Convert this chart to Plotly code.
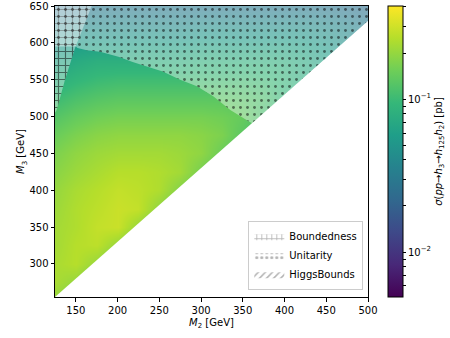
import numpy as np
import plotly.graph_objects as go

# ---------------- data ----------------
M2 = [125, 150, 175, 200, 225, 250, 275, 300, 325, 350, 375, 400, 425, 450, 475, 500]
M3 = [250, 275, 300, 325, 350, 375, 400, 425, 450, 475, 500, 525, 550, 575, 600, 625, 650]
gap = 130  # kinematic threshold M3 > M2 + gap (diagonal edge)

# cross section sigma(pp -> h3 -> h125 h2) in pb, rows = M3, cols = M2
sigma = [
    [0.201, 0.155, 0.119, 0.109, 0.109, 0.109, 0.109, 0.109, 0.109, 0.109, 0.109, 0.109, 0.109, 0.109, 0.109, 0.109],
    [0.230, 0.201, 0.142, 0.119, 0.109, 0.109, 0.109, 0.109, 0.109, 0.109, 0.109, 0.109, 0.109, 0.109, 0.109, 0.109],
    [0.230, 0.251, 0.201, 0.142, 0.119, 0.109, 0.109, 0.109, 0.109, 0.109, 0.109, 0.109, 0.109, 0.109, 0.109, 0.109],
    [0.220, 0.251, 0.262, 0.201, 0.142, 0.119, 0.109, 0.109, 0.109, 0.109, 0.109, 0.109, 0.109, 0.109, 0.109, 0.109],
    [0.220, 0.240, 0.274, 0.286, 0.201, 0.142, 0.119, 0.109, 0.109, 0.109, 0.109, 0.109, 0.109, 0.109, 0.109, 0.109],
    [0.210, 0.240, 0.262, 0.286, 0.274, 0.193, 0.142, 0.119, 0.109, 0.109, 0.109, 0.109, 0.109, 0.109, 0.109, 0.109],
    [0.201, 0.230, 0.251, 0.274, 0.262, 0.240, 0.177, 0.136, 0.119, 0.109, 0.109, 0.109, 0.109, 0.109, 0.109, 0.109],
    [0.185, 0.210, 0.230, 0.251, 0.251, 0.240, 0.220, 0.162, 0.130, 0.109, 0.109, 0.109, 0.109, 0.109, 0.109, 0.109],
    [0.169, 0.193, 0.210, 0.220, 0.220, 0.220, 0.210, 0.193, 0.148, 0.119, 0.0998, 0.0998, 0.0998, 0.0998, 0.0998, 0.0998],
    [0.148, 0.169, 0.185, 0.193, 0.193, 0.193, 0.193, 0.185, 0.169, 0.130, 0.109, 0.0998, 0.0998, 0.0998, 0.0998, 0.0998],
    [0.124, 0.142, 0.155, 0.162, 0.162, 0.162, 0.162, 0.162, 0.155, 0.142, 0.109, 0.0914, 0.0875, 0.0875, 0.0875, 0.0875],
    [0.0998, 0.114, 0.124, 0.130, 0.130, 0.130, 0.130, 0.130, 0.130, 0.124, 0.114, 0.0914, 0.0802, 0.0767, 0.0767, 0.0767],
    [0.0802, 0.0914, 0.0998, 0.104, 0.104, 0.104, 0.104, 0.104, 0.104, 0.104, 0.0998, 0.0914, 0.0767, 0.0703, 0.0644, 0.0644],
    [0.0644, 0.0735, 0.0802, 0.0802, 0.0802, 0.0802, 0.0802, 0.0838, 0.0838, 0.0838, 0.0838, 0.0802, 0.0735, 0.0617, 0.0565, 0.0565],
    [0.0495, 0.0565, 0.0590, 0.0590, 0.0590, 0.0590, 0.0590, 0.0617, 0.0617, 0.0617, 0.0617, 0.0617, 0.0590, 0.0541, 0.0454, 0.0416],
    [0.0365, 0.0398, 0.0416, 0.0416, 0.0416, 0.0416, 0.0416, 0.0435, 0.0435, 0.0435, 0.0435, 0.0435, 0.0435, 0.0416, 0.0381, 0.0320],
    [0.0269, 0.0281, 0.0293, 0.0293, 0.0293, 0.0293, 0.0293, 0.0293, 0.0293, 0.0293, 0.0293, 0.0293, 0.0293, 0.0281, 0.0269, 0.0246],
]

# excluded regions (boundaries)
bounded_M2 = [125, 127, 137, 149, 169, 125]
bounded_M3 = [505, 509, 550, 593, 650, 650]

unitarity_M2 = [125, 150, 152, 163, 179, 201, 218, 235, 254, 275, 295, 315, 335, 355, 361, 500, 500, 125]
unitarity_M3 = [595, 595, 593, 590, 588, 581, 574, 568, 561, 550, 541, 527, 509, 495, 491, 630, 650, 650]

sigma_min, sigma_max = 0.00508, 0.406
cb_major = [0.01, 0.1]
cb_major_text = ["10<sup>\u22122</sup>", "10<sup>\u22121</sup>"]
cb_minor = [0.006, 0.007, 0.008, 0.009, 0.02, 0.03, 0.04, 0.05, 0.06, 0.07, 0.08, 0.09, 0.2, 0.3, 0.4]

x_range = [125, 500]
y_range = [255, 650]

# ---------------- figure ----------------
FONT = "DejaVu Sans"
fig = go.Figure()

tickvals = list(np.log10(cb_major)) + list(np.log10(cb_minor))
ticktext = cb_major_text + [""] * len(cb_minor)

fig.add_trace(go.Heatmap(
    x=M2, y=M3, z=np.log10(np.array(sigma)),
    colorscale="Viridis", zmin=np.log10(sigma_min), zmax=np.log10(sigma_max),
    zsmooth="best", showscale=True, hoverinfo="skip",
    colorbar=dict(
        x=1.064, xanchor="left", xref="paper", xpad=0, ypad=0,
        y=0.5, yanchor="middle",
        len=1.0, lenmode="fraction", thickness=15,
        outlinecolor="black", outlinewidth=1,
        tickmode="array", tickvals=tickvals, ticktext=ticktext,
        ticks="outside", ticklen=3, tickcolor="black",
        tickfont=dict(family=FONT, size=10, color="black"),
        title=dict(text="<i>\u03c3</i>(<i>pp</i>\u2192<i>h</i><sub>3</sub>\u2192<i>h</i><sub>125</sub><i>h</i><sub>2</sub>) [pb]",
                   side="right", font=dict(family=FONT, size=10, color="black")),
    ),
))

# mask below the kinematic threshold
mask_x = [x_range[0], x_range[1], x_range[1], x_range[0]]
mask_y = [x_range[0] + gap, x_range[1] + gap, y_range[0] - 10, y_range[0] - 10]
fig.add_trace(go.Scatter(x=mask_x, y=mask_y, fill="toself", fillcolor="white",
                         mode="lines", line=dict(width=0, color="white"),
                         showlegend=False, hoverinfo="skip"))

wash = "rgba(255,255,255,0.4)"
clear = "rgba(0,0,0,0)"


def region(xs, ys, shape, size, solidity):
    # translucent white wash
    fig.add_trace(go.Scatter(x=xs, y=ys, fill="toself", mode="lines",
                             line=dict(width=0), fillcolor=wash,
                             showlegend=False, hoverinfo="skip"))
    # black hatch pattern
    fig.add_trace(go.Scatter(x=xs, y=ys, fill="toself", mode="lines",
                             line=dict(width=0, color="black"), fillcolor="black",
                             fillpattern=dict(shape=shape, fgcolor="black", bgcolor=clear,
                                              size=size, solidity=solidity),
                             showlegend=False, hoverinfo="skip"))


region(bounded_M2, bounded_M3, "+", 7, 0.3)
region(unitarity_M2, unitarity_M3, ".", 7, 0.13)

# legend entries
legend_items = [("Boundedness", "+"), ("Unitarity", "."), ("HiggsBounds", "/")]
for name, shp in legend_items:
    fig.add_trace(go.Scatter(
        x=[None], y=[None], fill="toself", mode="lines", name=name,
        line=dict(width=0, color="#666666"), fillcolor="#666666",
        fillpattern=dict(shape=shp, fgcolor="#666666", bgcolor=clear, size=5, solidity=0.3),
        hoverinfo="skip"))

axis_common = dict(showline=True, linecolor="black", linewidth=1, mirror=True,
                   ticks="outside", ticklen=3.5, tickcolor="black", showgrid=False, zeroline=False,
                   tickfont=dict(family=FONT, size=10, color="black"))
fig.update_xaxes(range=x_range, tickvals=[150, 200, 250, 300, 350, 400, 450, 500],
                 title=dict(text="<i>M</i><sub>2</sub> [GeV]", font=dict(family=FONT, size=10, color="black"), standoff=4),
                 **axis_common)
fig.update_yaxes(range=y_range, tickvals=[300, 350, 400, 450, 500, 550, 600, 650],
                 title=dict(text="<i>M</i><sub>3</sub> [GeV]", font=dict(family=FONT, size=10, color="black"), standoff=2),
                 **axis_common)

fig.update_layout(
    width=450, height=338,
    margin=dict(l=55, r=82, t=6, b=41, autoexpand=False),
    plot_bgcolor="white", paper_bgcolor="white",
    font=dict(family=FONT, size=10, color="black"),
    legend=dict(x=0.985, y=0.025, xanchor="right", yanchor="bottom",
                bgcolor="rgba(255,255,255,0.85)", bordercolor="#cccccc", borderwidth=1,
                font=dict(family=FONT, size=10, color="black"), tracegroupgap=0),
)

fig.write_html("out.html")
